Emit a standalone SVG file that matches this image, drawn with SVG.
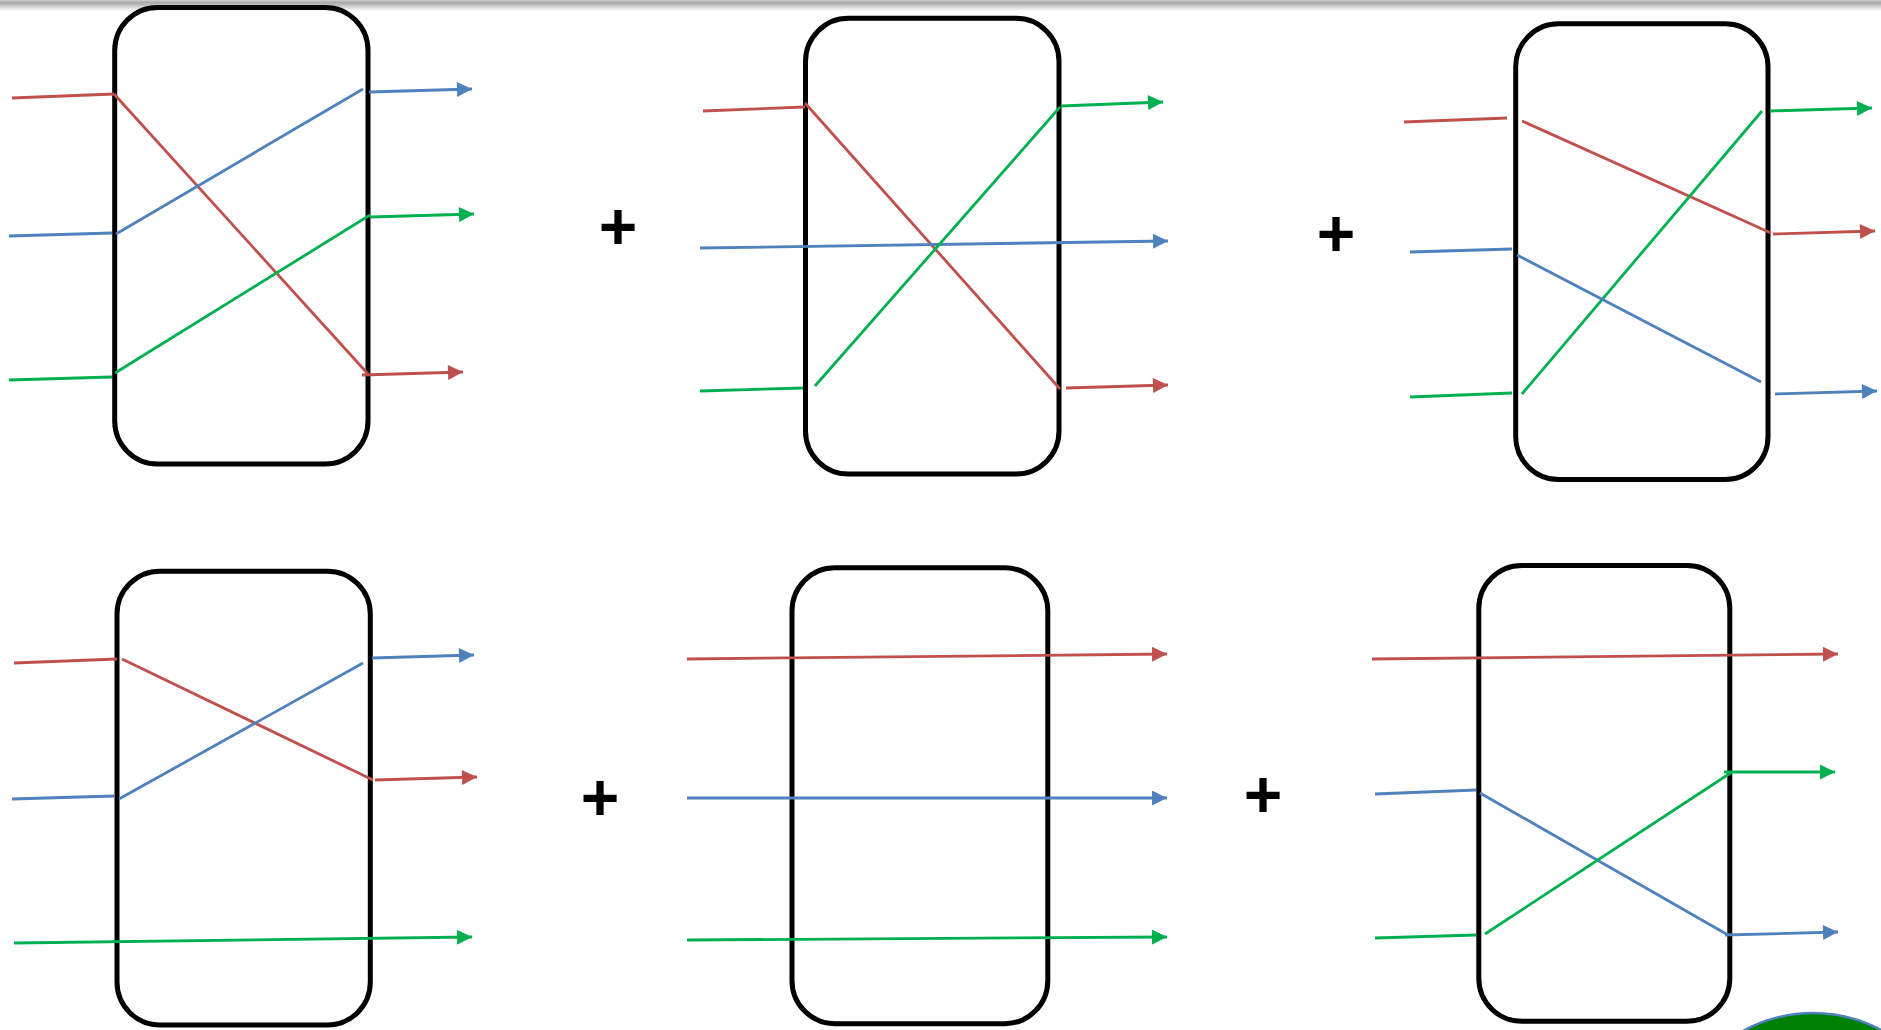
<svg xmlns="http://www.w3.org/2000/svg" width="1881" height="1030" viewBox="0 0 1881 1030">
  <style>
    .box { fill: #ffffff; stroke: #000000; stroke-width: 5; }
    .r { stroke: #C0504D; stroke-width: 2.8; fill: none; }
    .b { stroke: #4F81BD; stroke-width: 2.8; fill: none; }
    .g { stroke: #00B050; stroke-width: 2.8; fill: none; }
    .plus { font-family: "Liberation Sans", Arial, sans-serif; font-weight: bold; font-size: 66px; fill: #000000; text-anchor: middle; }
  </style>
  <defs>
    <linearGradient id="topbar" x1="0" y1="0" x2="0" y2="1">
      <stop offset="0" stop-color="#d0d0d0"/>
      <stop offset="0.25" stop-color="#a8a8a8"/>
      <stop offset="1" stop-color="#ffffff"/>
    </linearGradient>
    <marker id="ar" viewBox="0 0 10 10" refX="10" refY="5" markerWidth="17" markerHeight="15" markerUnits="userSpaceOnUse" orient="auto">
      <path d="M0,0 L10,5 L0,10 z" fill="#C0504D"/>
    </marker>
    <marker id="ab" viewBox="0 0 10 10" refX="10" refY="5" markerWidth="17" markerHeight="15" markerUnits="userSpaceOnUse" orient="auto">
      <path d="M0,0 L10,5 L0,10 z" fill="#4F81BD"/>
    </marker>
    <marker id="ag" viewBox="0 0 10 10" refX="10" refY="5" markerWidth="17" markerHeight="15" markerUnits="userSpaceOnUse" orient="auto">
      <path d="M0,0 L10,5 L0,10 z" fill="#00B050"/>
    </marker>
  </defs>

  <rect x="0" y="0" width="1881" height="1030" fill="#ffffff"/>
  <rect x="0" y="0" width="1881" height="11" fill="url(#topbar)"/>

  <g id="box1"><rect class="box" x="114.7" y="7.5" width="253.3" height="456.5" rx="43" ry="43"/></g>
  <g id="box2"><rect class="box" x="805.5" y="18.3" width="253.5" height="455.7" rx="43" ry="43"/></g>
  <g id="box3"><rect class="box" x="1515.7" y="23.8" width="252.3" height="455.7" rx="43" ry="43"/></g>
  <g id="box4"><rect class="box" x="117" y="571.2" width="253.3" height="453.8" rx="43" ry="43"/></g>
  <g id="box5"><rect class="box" x="792" y="567.8" width="255.8" height="455.9" rx="43" ry="43"/></g>
  <g id="box6"><rect class="box" x="1478.8" y="565.5" width="251" height="455.8" rx="43" ry="43"/></g>

  <g id="plus1"><text class="plus" x="618" y="249">+</text></g>
  <g id="plus2"><text class="plus" x="1336" y="256">+</text></g>
  <g id="plus3"><text class="plus" x="600" y="820">+</text></g>
  <g id="plus4"><text class="plus" x="1263" y="817">+</text></g>

  <g id="circle"><circle cx="1813" cy="1158" r="145" fill="#008000" stroke="#4F81BD" stroke-width="2.5"/></g>

  <g id="connectors">
    <!-- box 1 -->
    <line class="r" x1="12" y1="98" x2="114" y2="94"/>
    <line class="r" x1="114" y1="94" x2="368" y2="374"/>
    <line class="r" x1="362" y1="375" x2="463" y2="372" marker-end="url(#ar)"/>
    <line class="b" x1="9" y1="236" x2="112" y2="233"/>
    <line class="b" x1="116" y1="234" x2="363" y2="89"/>
    <line class="b" x1="369" y1="92" x2="472" y2="89" marker-end="url(#ab)"/>
    <line class="g" x1="9" y1="380" x2="112" y2="377"/>
    <line class="g" x1="115" y1="373" x2="370" y2="215"/>
    <line class="g" x1="371" y1="217" x2="474" y2="214" marker-end="url(#ag)"/>

    <!-- box 2 -->
    <line class="r" x1="703" y1="111" x2="805" y2="107"/>
    <line class="r" x1="805" y1="103" x2="1060" y2="389"/>
    <line class="r" x1="1066" y1="388" x2="1168" y2="385" marker-end="url(#ar)"/>
    <line class="b" x1="700" y1="248" x2="1168" y2="241" marker-end="url(#ab)"/>
    <line class="g" x1="700" y1="391" x2="803" y2="388"/>
    <line class="g" x1="815" y1="386" x2="1060" y2="107"/>
    <line class="g" x1="1061" y1="106" x2="1163" y2="102" marker-end="url(#ag)"/>

    <!-- box 3 -->
    <line class="r" x1="1404" y1="122" x2="1507" y2="118"/>
    <line class="r" x1="1522" y1="121" x2="1771" y2="233"/>
    <line class="r" x1="1773" y1="234" x2="1875" y2="231" marker-end="url(#ar)"/>
    <line class="g" x1="1410" y1="397" x2="1512" y2="393"/>
    <line class="g" x1="1522" y1="394" x2="1762" y2="111"/>
    <line class="g" x1="1770" y1="111" x2="1872" y2="108" marker-end="url(#ag)"/>
    <line class="b" x1="1410" y1="252" x2="1512" y2="249"/>
    <line class="b" x1="1517" y1="255" x2="1761" y2="382"/>
    <line class="b" x1="1775" y1="394" x2="1877" y2="391" marker-end="url(#ab)"/>

    <!-- box 4 -->
    <line class="r" x1="14" y1="663" x2="117" y2="659"/>
    <line class="r" x1="122" y1="659" x2="373" y2="780"/>
    <line class="r" x1="375" y1="780" x2="477" y2="777" marker-end="url(#ar)"/>
    <line class="b" x1="12" y1="799" x2="114" y2="796"/>
    <line class="b" x1="119" y1="799" x2="363" y2="663"/>
    <line class="b" x1="372" y1="658" x2="474" y2="655" marker-end="url(#ab)"/>
    <line class="g" x1="14" y1="943" x2="472" y2="937" marker-end="url(#ag)"/>

    <!-- box 5 -->
    <line class="r" x1="687" y1="659" x2="1167" y2="654" marker-end="url(#ar)"/>
    <line class="b" x1="687" y1="798" x2="1167" y2="798" marker-end="url(#ab)"/>
    <line class="g" x1="687" y1="940" x2="1167" y2="937" marker-end="url(#ag)"/>

    <!-- box 6 -->
    <line class="r" x1="1372" y1="659" x2="1838" y2="654" marker-end="url(#ar)"/>
    <line class="b" x1="1375" y1="794" x2="1476" y2="790"/>
    <line class="b" x1="1480" y1="793" x2="1728" y2="935"/>
    <line class="b" x1="1725" y1="935" x2="1838" y2="932" marker-end="url(#ab)"/>
    <line class="g" x1="1375" y1="938" x2="1476" y2="935"/>
    <line class="g" x1="1485" y1="934" x2="1732" y2="772"/>
    <line class="g" x1="1724" y1="772" x2="1835" y2="772" marker-end="url(#ag)"/>
  </g>
</svg>
